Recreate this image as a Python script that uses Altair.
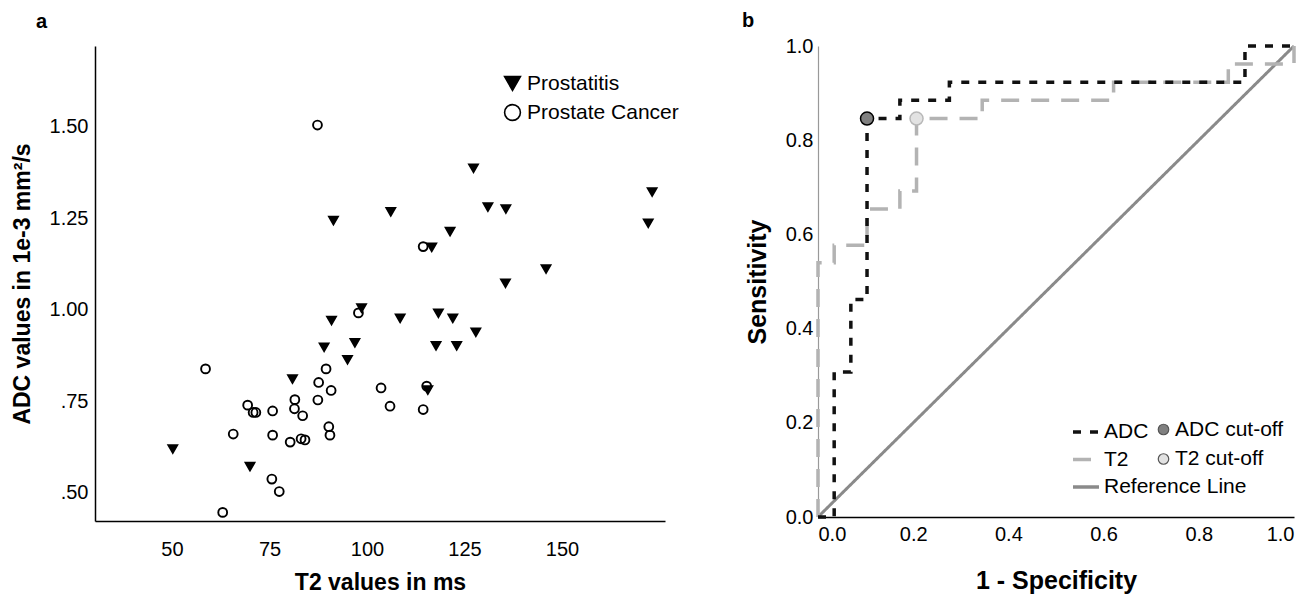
import altair as alt
import pandas as pd

FONT = "Liberation Sans"

# ---------------- panel a : scatter ----------------
prostatitis_t2 = [127.3, 173.1, 172.1, 91.4, 106.1, 131.0, 135.6, 121.3, 116.6, 145.9,
                  135.5, 98.6, 90.9, 108.5, 118.3, 122.0, 127.9, 89.0, 96.9, 117.7,
                  123.0, 95.0, 80.9, 115.6, 50.2, 70.0]
prostatitis_adc = [1.387, 1.322, 1.237, 1.244, 1.268, 1.281, 1.276, 1.214, 1.171, 1.112,
                   1.073, 1.005, 0.971, 0.977, 0.991, 0.977, 0.939, 0.898, 0.910, 0.902,
                   0.902, 0.864, 0.811, 0.781, 0.620, 0.572]
cancer_t2 = [87.3, 114.4, 97.8, 58.6, 89.5, 87.6, 90.8, 103.6, 115.3, 69.4,
             70.8, 71.5, 75.8, 81.5, 81.4, 83.5, 87.4, 105.9, 114.4, 65.7,
             75.8, 80.3, 83.1, 84.1, 90.2, 90.5, 75.6, 77.5, 63.0]
cancer_adc = [1.505, 1.173, 0.992, 0.839, 0.839, 0.802, 0.780, 0.787, 0.792, 0.740,
              0.720, 0.720, 0.724, 0.755, 0.730, 0.711, 0.754, 0.737, 0.728, 0.661,
              0.658, 0.639, 0.648, 0.645, 0.681, 0.658, 0.538, 0.504, 0.447]
groups = ["Prostatitis", "Prostate Cancer"]
x_ticks_a = [50, 75, 100, 125, 150]
y_ticks_a = [0.50, 0.75, 1.00, 1.25, 1.50]

# ---------------- panel b : ROC ----------------
adc_fpr = [0.0, 0.034, 0.069, 0.103, 0.172, 0.276, 0.897, 1.0]
adc_sens = [0.0, 0.308, 0.462, 0.846, 0.885, 0.923, 1.0, 1.0]
t2_fpr = [0.0, 0.0, 0.034, 0.103, 0.172, 0.207, 0.345, 0.621, 0.862, 1.0]
t2_sens = [0.0, 0.54, 0.577, 0.654, 0.692, 0.846, 0.885, 0.923, 0.962, 1.0]
ref_fpr = [0.0, 1.0]
ref_sens = [0.0, 1.0]
cut_names = ["ADC cut-off", "T2 cut-off"]
cut_fpr = [0.103, 0.207]
cut_sens = [0.846, 0.846]
curve_names = ["ADC", "T2", "Reference Line"]
roc_ticks = [0.0, 0.2, 0.4, 0.6, 0.8, 1.0]

# ---------------- tables ----------------
scatter_df = pd.DataFrame({
    "T2": prostatitis_t2 + cancer_t2,
    "ADC": prostatitis_adc + cancer_adc,
    "group": [groups[0]] * len(prostatitis_t2) + [groups[1]] * len(cancer_t2),
})
adc_df = pd.DataFrame({"fpr": adc_fpr, "sens": adc_sens, "curve": "ADC",
                       "idx": list(range(len(adc_fpr)))})
t2_df = pd.DataFrame({"fpr": t2_fpr, "sens": t2_sens, "curve": "T2",
                      "idx": list(range(len(t2_fpr)))})
ref_df = pd.DataFrame({"fpr": ref_fpr, "sens": ref_sens, "curve": "Reference Line",
                       "idx": [0, 1]})
cut_df = pd.DataFrame({"fpr": cut_fpr, "sens": cut_sens, "cut": cut_names})

axis_common = dict(labelFont=FONT, labelFontSize=20, labelColor="black",
                   titleFont=FONT, titleFontWeight="bold",
                   titleColor="black", tickSize=0, grid=False)

# ---------------- chart a ----------------
legend_a = alt.Legend(title=None, orient="none", legendX=407, legendY=27, padding=0,
                      labelFont=FONT, labelFontSize=21, labelColor="black",
                      symbolSize=250, symbolStrokeWidth=1.6,
                      rowPadding=7, labelOffset=4)

scatter = alt.Chart(scatter_df).mark_point(filled=True, size=78,
                                           strokeWidth=1.9, opacity=1).encode(
    x=alt.X("T2:Q", scale=alt.Scale(domain=[30.26, 176.4], nice=False, zero=False),
            axis=alt.Axis(values=x_ticks_a, format="d", title="T2 values in ms",
                          domainColor="black", domainWidth=1.5, titleFontSize=23,
                          labelPadding=18, titlePadding=12, **axis_common)),
    y=alt.Y("ADC:Q", scale=alt.Scale(domain=[0.4235, 1.721], nice=False, zero=False),
            axis=alt.Axis(values=y_ticks_a,
                          labelExpr="datum.value < 1 ? replace(format(datum.value, '.2f'), '0.', '.') : format(datum.value, '.2f')",
                          title="ADC values in 1e-3 mm²/s", titleFontSize=23,
                          domainColor="black", domainWidth=1.5,
                          labelPadding=7, titlePadding=15, **axis_common)),
    shape=alt.Shape("group:N", scale=alt.Scale(domain=groups, range=["triangle-down", "circle"]),
                    legend=legend_a),
    fill=alt.Fill("group:N", scale=alt.Scale(domain=groups, range=["black", "transparent"]),
                  legend=legend_a),
    stroke=alt.Stroke("group:N", scale=alt.Scale(domain=groups, range=["black", "black"]),
                      legend=legend_a),
).properties(
    width=570, height=475,
    title=alt.TitleParams("a", anchor="start", frame="group", dx=-59, dy=-9, offset=5,
                          font=FONT, fontSize=20, fontWeight="bold", color="black"),
)

# ---------------- chart b ----------------
stroke_scale = alt.Scale(domain=curve_names, range=["#111111", "#b3b3b3", "#8a8a8a"])
dash_scale = alt.Scale(domain=curve_names, range=[[8, 9], [18, 12], [1, 0]])
legend_lines = alt.Legend(title=None, orient="none", legendX=253, legendY=371, padding=0,
                          symbolType="stroke", symbolSize=676, symbolStrokeWidth=3.5,
                          labelFont=FONT, labelFontSize=21, labelColor="black",
                          rowPadding=2.5, labelOffset=3)
legend_pts = alt.Legend(title=None, orient="none", legendX=335, legendY=373, padding=0,
                        symbolType="circle", symbolSize=110, symbolStrokeColor="#555555",
                        symbolStrokeWidth=1.2, labelFont=FONT, labelFontSize=21,
                        labelColor="black", rowPadding=7.5, labelOffset=1)

x_roc = alt.X("fpr:Q", scale=alt.Scale(domain=[0, 1], nice=False, zero=False),
              axis=alt.Axis(values=roc_ticks, format=".1f", title="1 - Specificity",
                            titleFontSize=25, domainColor="black", domainWidth=1.5,
                            labelPadding=7, titlePadding=24, **axis_common))
y_roc = alt.Y("sens:Q", scale=alt.Scale(domain=[0, 1], nice=False, zero=False),
              axis=alt.Axis(values=roc_ticks, format=".1f", title="Sensitivity",
                            titleFontSize=25, domainColor="#999999", domainWidth=1.2,
                            labelPadding=5, titlePadding=15, **axis_common))
stroke_enc = alt.Stroke("curve:N", scale=stroke_scale, legend=legend_lines)
dash_enc = alt.StrokeDash("curve:N", scale=dash_scale, legend=legend_lines)

ref_line = alt.Chart(ref_df).mark_line(strokeWidth=3).encode(
    x=x_roc, y=y_roc, stroke=stroke_enc, strokeDash=dash_enc, order="idx:Q")
t2_line = alt.Chart(t2_df).mark_line(interpolate="step-after", strokeWidth=3.5).encode(
    x=x_roc, y=y_roc, stroke=stroke_enc, strokeDash=dash_enc, order="idx:Q")
adc_line = alt.Chart(adc_df).mark_line(interpolate="step-after", strokeWidth=3.5).encode(
    x=x_roc, y=y_roc, stroke=stroke_enc, strokeDash=dash_enc, order="idx:Q")
cut_pts = alt.Chart(cut_df).mark_point(filled=True, size=170, strokeWidth=1.5, opacity=1).encode(
    x=x_roc, y=y_roc,
    fill=alt.Fill("cut:N", scale=alt.Scale(domain=cut_names, range=["#808080", "#e2e2e2"]),
                  legend=legend_pts),
    stroke=alt.condition(alt.datum.cut == "ADC cut-off", alt.value("black"), alt.value("#b8b8b8")),
)

roc = alt.layer(ref_line, t2_line, adc_line, cut_pts).properties(
    width=476, height=471,
    title=alt.TitleParams("b", anchor="start", frame="group", dx=-76, offset=5,
                          font=FONT, fontSize=20, fontWeight="bold", color="black"),
)

chart = alt.hconcat(scatter, roc, spacing=63).resolve_scale(
    shape="independent", fill="independent",
    stroke="independent", strokeDash="independent",
).resolve_legend(
    shape="independent", fill="independent",
    stroke="independent", strokeDash="independent",
).properties(
    padding={"left": 3, "top": 3, "right": 0, "bottom": 0}
).configure_view(stroke=None)

chart.save("out.html", embed_options={"renderer": "svg", "actions": False})
